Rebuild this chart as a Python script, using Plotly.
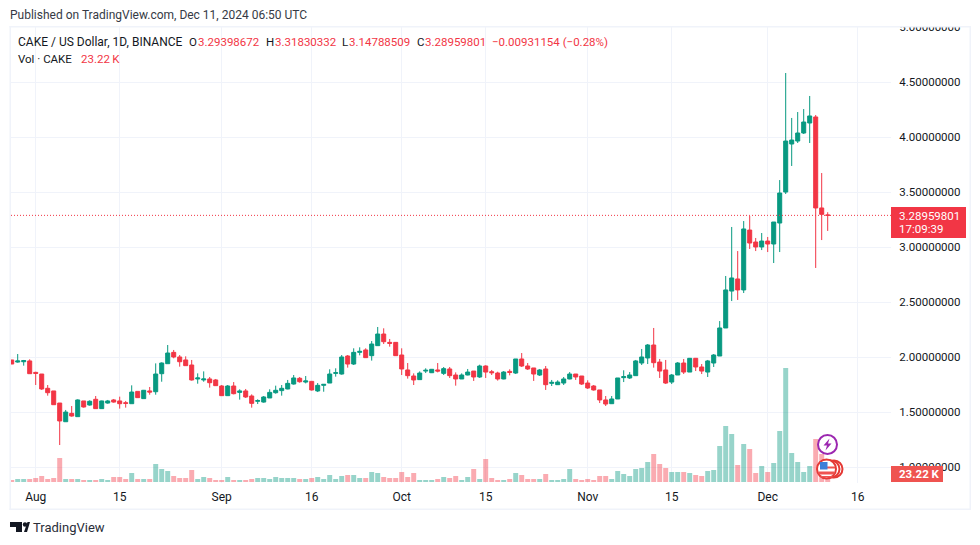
import pandas as pd
import plotly.graph_objects as gobj

# daily candles, Jul 28 -> Dec 11 2024
opens = [1.974,1.955,1.958,1.965,1.861,1.846,1.716,1.692,1.582,1.412,1.488,1.458,1.601,1.564,1.616,1.531,1.582,1.610,1.601,1.585,
         1.576,1.688,1.622,1.692,1.685,1.849,1.940,2.043,2.001,1.974,1.928,1.801,1.792,1.801,1.792,1.737,1.649,1.737,1.679,1.692,
         1.646,1.598,1.591,1.628,1.676,1.695,1.710,1.755,1.807,1.773,1.779,1.692,1.743,1.764,1.852,1.846,2.010,1.937,2.043,2.065,
         2.013,2.104,2.210,2.134,2.134,2.019,1.883,1.828,1.795,1.873,1.858,1.883,1.852,1.892,1.837,1.801,1.837,1.873,1.819,1.919,
         1.867,1.855,1.801,1.870,1.855,1.983,1.919,1.901,1.837,1.892,1.761,1.749,1.764,1.801,1.846,1.828,1.764,1.737,1.701,1.610,
         1.576,1.619,1.813,1.810,1.831,1.946,1.992,2.110,1.955,1.883,1.773,1.837,1.946,1.864,1.989,1.910,1.864,1.946,2.010,2.265,
         2.601,2.711,2.611,3.156,3.047,3.002,3.056,3.029,3.220,3.502,3.939,3.966,4.039,4.130,4.185,3.357,3.29398672]
highs = [1.974,2.028,1.974,1.980,1.867,1.846,1.746,1.692,1.582,1.519,1.555,1.616,1.601,1.607,1.646,1.604,1.610,1.619,1.640,1.601,
         1.743,1.688,1.701,1.728,1.943,1.952,2.110,2.065,2.019,2.007,1.974,1.852,1.870,1.819,1.801,1.746,1.746,1.773,1.707,1.710,
         1.661,1.616,1.646,1.707,1.740,1.746,1.792,1.837,1.819,1.828,1.783,1.764,1.752,1.889,1.898,2.019,2.019,2.080,2.089,2.080,
         2.146,2.274,2.262,2.165,2.137,2.080,1.946,1.852,1.870,1.898,1.892,1.946,1.910,1.910,1.861,1.852,1.892,1.873,1.931,1.925,
         1.883,1.867,1.873,1.889,1.983,2.037,1.946,1.901,1.892,1.919,1.792,1.789,1.819,1.864,1.846,1.828,1.789,1.746,1.701,1.646,
         1.646,1.810,1.880,1.864,1.974,2.074,2.119,2.265,1.983,1.974,1.846,1.955,1.983,1.992,1.992,1.937,1.974,2.028,2.328,2.738,
         3.184,2.965,3.238,3.284,3.084,3.129,3.093,3.229,3.611,4.585,4.176,4.230,4.257,4.376,4.203,3.675,3.31830332]
lows = [1.937,1.949,1.922,1.849,1.746,1.701,1.649,1.567,1.200,1.412,1.458,1.458,1.540,1.558,1.528,1.528,1.576,1.585,1.531,1.540,
        1.576,1.628,1.622,1.658,1.658,1.776,1.940,1.989,1.913,1.922,1.786,1.758,1.776,1.722,1.737,1.646,1.646,1.661,1.613,1.628,
        1.540,1.573,1.585,1.628,1.667,1.649,1.707,1.749,1.767,1.761,1.695,1.682,1.685,1.764,1.822,1.840,1.904,1.928,2.016,1.992,
        1.968,2.101,2.119,2.095,2.010,1.837,1.804,1.746,1.792,1.855,1.855,1.861,1.837,1.810,1.740,1.801,1.834,1.783,1.810,1.810,
        1.837,1.786,1.798,1.834,1.846,1.910,1.883,1.783,1.828,1.701,1.737,1.746,1.746,1.798,1.792,1.746,1.710,1.695,1.582,1.555,
        1.573,1.619,1.773,1.801,1.828,1.928,1.937,1.904,1.810,1.755,1.755,1.837,1.846,1.864,1.873,1.846,1.819,1.910,2.010,2.265,
        2.510,2.520,2.583,2.984,2.965,2.974,2.956,2.856,2.956,3.484,3.739,3.948,4.030,3.948,2.811,3.065,3.14788509]
closes = [1.937,1.965,1.968,1.849,1.852,1.710,1.676,1.567,1.419,1.500,1.464,1.610,1.546,1.598,1.531,1.601,1.601,1.591,1.576,1.579,
          1.682,1.631,1.698,1.682,1.846,1.946,2.037,2.001,1.958,1.922,1.792,1.810,1.801,1.767,1.740,1.649,1.737,1.667,1.692,1.637,
          1.579,1.604,1.637,1.679,1.698,1.716,1.761,1.810,1.776,1.783,1.701,1.743,1.752,1.846,1.858,2.001,1.937,2.043,2.052,1.995,
          2.119,2.210,2.140,2.125,2.013,1.892,1.831,1.792,1.855,1.880,1.889,1.873,1.895,1.831,1.801,1.837,1.864,1.819,1.919,1.864,
          1.858,1.801,1.864,1.861,1.983,1.919,1.892,1.846,1.883,1.749,1.770,1.773,1.801,1.846,1.819,1.755,1.719,1.701,1.610,1.573,
          1.619,1.810,1.822,1.837,1.965,2.001,2.110,1.949,1.873,1.764,1.837,1.946,1.864,1.989,1.910,1.873,1.965,2.019,2.265,2.611,
          2.720,2.611,3.166,3.038,3.002,3.056,3.029,3.229,3.493,3.966,3.975,4.039,4.139,4.194,3.357,3.2989,3.28959801]
# volume in thousands of CAKE
volumes = [10,15,15,15,20,30,15,20,120,15,15,15,10,10,10,15,10,25,25,15,
           45,15,15,15,90,65,55,30,20,20,60,15,25,20,10,10,25,10,10,10,
           15,20,20,15,25,20,20,20,15,15,20,25,15,35,15,30,35,35,20,20,
           50,45,25,20,20,50,25,45,10,10,10,15,25,20,30,10,25,65,15,115,
           20,10,10,15,45,35,15,15,15,40,10,10,15,65,15,10,15,10,30,30,
           15,55,40,30,65,70,100,140,90,70,50,50,50,45,35,30,55,60,180,280,
           240,85,190,165,45,80,50,95,255,570,145,100,50,80,215,140,23.22]

tick_dates = ["2024-08-01", "2024-08-15", "2024-09-01", "2024-09-16", "2024-10-01",
              "2024-10-15", "2024-11-01", "2024-11-15", "2024-12-01", "2024-12-16"]
tick_labels = ["Aug", "15", "Sep", "16", "Oct", "15", "Nov", "15", "Dec", "16"]
price_ticks = [1.0, 1.5, 2.0, 2.5, 3.0, 3.5, 4.0, 4.5, 5.0]

UP = "#089981"
DOWN = "#F23645"
INK = "#131722"
GRID = "#f0f3fa"
FONT = "Roboto"

# the page body has an 8px margin, so the figure is smaller and everything below is in window pixels
PAGE = 8
W, H = 980, 545
LEFT, RIGHT, TOP, BOTTOM = 11, 891, 27, 483


def px(x):
    return (x - LEFT) / (RIGHT - LEFT)


def py(y):
    return (BOTTOM - y) / (BOTTOM - TOP)


def box(x0, y0, x1, y1, fill, line=None, layer="above"):
    return dict(type="rect", xref="paper", yref="paper", x0=px(x0), x1=px(x1), y0=py(y0), y1=py(y1),
                fillcolor=fill, line=dict(color=line or fill, width=1 if line else 0), layer=layer)


def ring(cx, cy, r, fill, line, width=2):
    return dict(type="circle", xref="paper", yref="paper", x0=px(cx - r), x1=px(cx + r), y0=py(cy - r), y1=py(cy + r),
                fillcolor=fill, line=dict(color=line, width=width), layer="above")


def poly(points, fill):
    path = "M " + " L ".join(f"{px(a):.5f},{py(b):.5f}" for a, b in points) + " Z"
    return dict(type="path", xref="paper", yref="paper", path=path, fillcolor=fill, line=dict(width=0), layer="above")


def label(x, y, text, color=INK, size=11.5, anchor="left"):
    return dict(xref="paper", yref="paper", x=px(x), y=py(y), text=text, showarrow=False, xanchor=anchor,
                yanchor="middle", align="left", font=dict(family=FONT, size=size, color=color),
                borderpad=0, borderwidth=0)


dates = pd.date_range("2024-07-28", periods=len(closes), freq="D")
bar_colors = ["rgba(8,153,129,0.42)" if c >= o else "rgba(242,54,69,0.42)" for o, c in zip(opens, closes)]

fig = gobj.Figure()
fig.add_bar(x=dates, y=volumes, marker_color=bar_colors, marker_line_width=0, yaxis="y2", showlegend=False)
fig.add_candlestick(x=dates, open=opens, high=highs, low=lows, close=closes, showlegend=False, whiskerwidth=0,
                    increasing=dict(line=dict(color=UP, width=1), fillcolor=UP),
                    decreasing=dict(line=dict(color=DOWN, width=1), fillcolor=DOWN))

day0 = pd.Timestamp("2024-08-01")
x_start = day0 + pd.Timedelta(days=(LEFT - 35.7) / 6)
x_end = day0 + pd.Timedelta(days=(RIGHT - 35.7) / 6)

shapes = [
    # last price line
    dict(type="line", xref="paper", yref="y", x0=0, x1=1, y0=closes[-1], y1=closes[-1],
         line=dict(color=DOWN, width=1, dash="1px,2px"), layer="above"),
    # hides the upper half of the clipped top price label
    box(880, 0, W, 26, "white"),
    # frame
    box(9.5, 26, 11, 510, GRID), box(9.5, 26, 971, 27.5, GRID), box(969.5, 26, 971, 510, GRID), box(9.5, 508.5, 971, 510, GRID),
    # price and volume tags
    box(891, 207, 966, 238, DOWN),
    box(891, 466, 943, 482, "#EF5350"),
    # US flag event bubbles, back to front
    ring(834, 469, 8.5, "white", "#E53935"),
    ring(831, 469, 8.5, "white", "#E53935"),
    ring(826.5, 469, 9.5, "white", "#E53935"),
    box(818.5, 471.5, 834.5, 474.5, "#EF5350"),
    box(820.5, 476, 832.5, 477.5, "#EF5350"),
    box(826.5, 466.5, 835, 468.5, "#EF5350"),
    box(820, 462, 827.5, 469.5, "#3D7FD9"),
    # event bubble with lightning
    ring(827.5, 444.5, 9.5, "white", "#9C27B0"),
    poly([(829.5, 438.5), (823.5, 445.5), (827, 445.5), (825.5, 450.5), (831.5, 443.5), (828, 443.5)], "#9C27B0"),
    # TradingView logo
    poly([(10, 522), (22, 522), (22, 532), (16, 532), (16, 527), (10, 527)], "#131722"),
    ring(25, 524.5, 2.2, "#131722", "#131722", 0),
    poly([(24, 532), (27.5, 522), (30, 522), (27, 532)], "#131722"),
]

annotations = [
    label(10, 14.5, "Published on TradingView.com, Dec 11, 2024 06:50 UTC", "#363A45", 12),
    label(18, 42, "CAKE / US Dollar, 1D, BINANCE", INK, 12),
    label(189, 42, "O"), label(198, 42, "3.29398672", DOWN),
    label(266, 42, "H"), label(275, 42, "3.31830332", DOWN),
    label(342, 42, "L"), label(349, 42, "3.14788509", DOWN),
    label(417, 42, "C"), label(425, 42, "3.28959801", DOWN),
    label(492, 42, "\u22120.00931154 (\u22120.28%)", DOWN),
    label(18, 59, "Vol \u00b7 CAKE"),
    label(81, 59, "23.22\u2009K", DOWN),
    label(899, 215.5, "3.28959801", "white"),
    label(899, 229.5, "17:09:39", "white"),
    label(899, 474, "<b>23.22 K</b>", "white"),
    label(33, 527, "TradingView", "#2A2E39", 13),
]

fig.update_layout(
    width=W - PAGE, height=H - PAGE, autosize=False,
    margin=dict(l=LEFT - PAGE, r=W - RIGHT, t=TOP - PAGE, b=H - BOTTOM, autoexpand=False),
    paper_bgcolor="white", plot_bgcolor="white",
    bargap=0.17, boxgap=0.33, boxgroupgap=0, showlegend=False,
    font=dict(family=FONT, size=12, color=INK),
    shapes=shapes, annotations=annotations,
)
fig.update_xaxes(
    type="date", range=[x_start, x_end], rangeslider_visible=False,
    tickvals=tick_dates, ticktext=tick_labels, tickangle=0,
    showgrid=True, gridcolor=GRID, gridwidth=1, showline=False, zeroline=False,
    ticks="outside", ticklen=3, tickcolor="rgba(0,0,0,0)", tickfont=dict(family=FONT, size=12, color=INK),
)
fig.update_yaxes(
    side="right", range=[1 - (BOTTOM - 467) / 109.9, 1 + (467 - TOP) / 109.9],
    tickvals=price_ticks, tickformat=".8f",
    showgrid=True, gridcolor=GRID, gridwidth=1, showline=False, zeroline=False,
    ticks="outside", ticklen=5, tickcolor="rgba(0,0,0,0)", tickfont=dict(family=FONT, size=11.5, color=INK),
)
# volume pane shares the plot, 1px is 5K
fig.update_layout(yaxis2=dict(overlaying="y", side="left", range=[-5, 2275], visible=False, showgrid=False))

fig.write_html("out.html")
